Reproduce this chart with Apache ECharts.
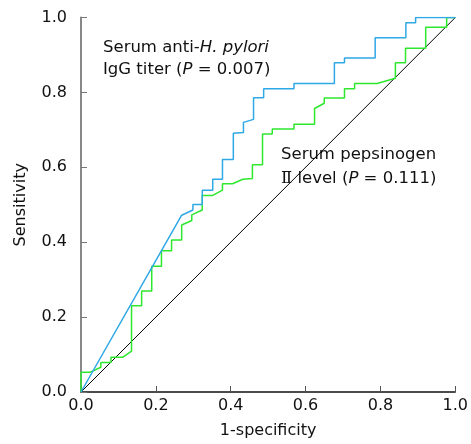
<!DOCTYPE html>
<html>
<head>
<meta charset="utf-8">
<script src="https://cdn.jsdelivr.net/npm/echarts@6/dist/echarts.min.js"></script>
<style>
  html, body { margin: 0; padding: 0; background: #fff; }
  #chart { width: 471px; height: 444px; }
</style>
</head>
<body>
<div id="chart"></div>
<script>
// ROC curves, [1-specificity, sensitivity]
var igg = [
  [0, 0], [0.269, 0.472], [0.299, 0.486], [0.299, 0.501], [0.324, 0.501],
  [0.324, 0.539], [0.352, 0.539], [0.352, 0.568], [0.378, 0.568], [0.378, 0.621],
  [0.407, 0.621], [0.407, 0.691], [0.434, 0.693], [0.434, 0.720], [0.461, 0.728],
  [0.461, 0.786], [0.488, 0.786], [0.488, 0.810], [0.569, 0.810], [0.569, 0.824],
  [0.677, 0.824], [0.677, 0.879], [0.704, 0.879], [0.704, 0.892], [0.786, 0.892],
  [0.786, 0.946], [0.868, 0.946], [0.868, 0.986], [0.894, 0.986], [0.894, 1.0],
  [1.0, 1.0]
];
var pg2 = [
  [0, 0], [0, 0.053], [0.025, 0.053], [0.053, 0.066], [0.053, 0.079],
  [0.080, 0.079], [0.080, 0.093], [0.112, 0.093], [0.135, 0.109], [0.135, 0.230],
  [0.162, 0.230], [0.162, 0.270], [0.189, 0.270], [0.189, 0.336], [0.215, 0.336],
  [0.215, 0.377], [0.242, 0.377], [0.242, 0.406], [0.269, 0.406], [0.269, 0.446],
  [0.296, 0.458], [0.296, 0.473], [0.324, 0.486], [0.324, 0.525], [0.352, 0.525],
  [0.378, 0.539], [0.378, 0.556], [0.405, 0.556], [0.432, 0.568], [0.458, 0.570],
  [0.458, 0.607], [0.485, 0.607], [0.485, 0.689], [0.511, 0.689], [0.511, 0.702],
  [0.569, 0.702], [0.569, 0.715], [0.624, 0.715], [0.624, 0.757], [0.650, 0.771],
  [0.650, 0.785], [0.704, 0.785], [0.704, 0.810], [0.731, 0.810], [0.731, 0.824],
  [0.791, 0.824], [0.840, 0.838], [0.840, 0.879], [0.867, 0.879], [0.867, 0.918],
  [0.921, 0.918], [0.921, 0.974], [0.977, 0.974], [0.977, 1.0], [1.0, 1.0]
];
var reference = [[0, 0], [1, 1]];

var font = 'DejaVu Sans';
var chart = echarts.init(document.getElementById('chart'));

chart.setOption({
  animation: false,
  grid: { left: 81, right: 13.5, top: 17.5, bottom: 49 },
  xAxis: {
    type: 'value', min: 0, max: 1, interval: 0.2,
    name: '1-specificity', nameLocation: 'middle', nameGap: 31,
    nameTextStyle: { fontFamily: font, fontSize: 16, color: '#111' },
    axisLine: { lineStyle: { color: '#111', width: 1.5 } },
    axisTick: { inside: true, length: 6, lineStyle: { color: '#555' } },
    axisLabel: { fontFamily: font, fontSize: 16, color: '#111', margin: 6,
      formatter: function (v) { return v.toFixed(1); } },
    splitLine: { show: false }
  },
  yAxis: {
    type: 'value', min: 0, max: 1, interval: 0.2,
    name: 'Sensitivity', nameLocation: 'middle', nameGap: 52,
    nameTextStyle: { fontFamily: font, fontSize: 16, color: '#111' },
    axisLine: { lineStyle: { color: '#888', width: 2 } },
    axisTick: { inside: true, length: 6, lineStyle: { color: '#777' } },
    axisLabel: { fontFamily: font, fontSize: 16, color: '#111', margin: 14,
      formatter: function (v) { return v.toFixed(1); } },
    splitLine: { show: false }
  },
  series: [
    { type: 'line', data: reference, symbol: 'none', silent: true,
      lineStyle: { color: '#000', width: 1 } },
    { type: 'line', data: pg2, symbol: 'none',
      lineStyle: { color: '#2ee82e', width: 1.5 } },
    { type: 'line', data: igg, symbol: 'none',
      lineStyle: { color: '#2fa8e6', width: 1.5 } }
  ],
  graphic: [
    { type: 'text', left: 103, top: 37,
      style: {
        text: 'Serum anti-{i|H. pylori}\nIgG titer ({i|P} = 0.007)',
        fontFamily: font, fontSize: 16.5, lineHeight: 22, fill: '#111',
        rich: { i: { fontStyle: 'italic', fontFamily: font, fontSize: 16.5 } }
      } },
    { type: 'text', left: 281, top: 143,
      style: {
        text: 'Serum pepsinogen\n{r|Ⅱ} level ({i|P} = 0.111)',
        fontFamily: font, fontSize: 16.5, lineHeight: 24, fill: '#111',
        rich: {
          i: { fontStyle: 'italic', fontFamily: font, fontSize: 16.5 },
          r: { fontFamily: 'DejaVu Serif', fontSize: 16.5 }
        }
      } }
  ]
});
</script>
</body>
</html>
